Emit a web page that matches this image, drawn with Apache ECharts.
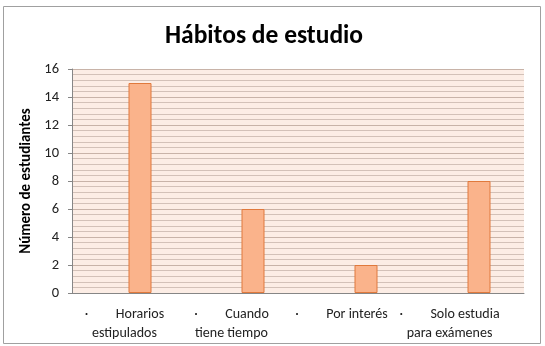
<!DOCTYPE html>
<html><head><meta charset="utf-8">
<script src="https://cdn.jsdelivr.net/npm/echarts@6/dist/echarts.min.js"></script>
<style>html,body{margin:0;padding:0;background:#fff}#c{width:545px;height:346px}</style>
</head><body><div id="c"></div>
<script>
var titleText = 'Hábitos de estudio';
var yAxisName = 'Número de estudiantes';
var categories = ['Horarios|estipulados', 'Cuando|tiene tiempo', 'Por interés|', 'Solo estudia|para exámenes'];
var values = [15, 6, 2, 8];
var yTicks = [0, 2, 4, 6, 8, 10, 12, 14, 16];

var font = 'Carlito, Calibri, Lato, sans-serif';
var labelShift = [8, 20, 26, 36];
var rich = {};
labelShift.forEach(function (s, i) {
  rich['d' + i] = { fontFamily: font, fontSize: 14, color: '#222', width: 31, align: 'left' };
  rich['w' + i] = { fontFamily: font, fontSize: 14, color: '#222', padding: [0, s, 0, 0], lineHeight: 19 };
  rich['l' + i] = { fontFamily: font, fontSize: 14, color: '#222', padding: [0, s, 0, 0], lineHeight: 19 };
});

var chart = echarts.init(document.getElementById('c'), null, { renderer: 'canvas' });
chart.setOption({
  animation: false,
  title: {
    text: titleText, left: 160, top: 19,
    textStyle: { fontFamily: font, fontSize: 25.5, fontWeight: 'bold', color: '#000' }
  },
  graphic: [{
    type: 'rect', shape: { x: 3.5, y: 6.5, width: 537, height: 337 },
    style: { fill: 'none', stroke: '#a0a0a0', lineWidth: 1 }, silent: true
  }],
  grid: { left: 72, right: 21, top: 69, bottom: 53, show: true, backgroundColor: '#fcede5', borderWidth: 0 },
  xAxis: {
    type: 'category', data: categories,
    axisLine: { show: true, lineStyle: { color: '#868686' } },
    axisTick: { show: false },
    splitLine: { show: false },
    axisLabel: {
      interval: 0, margin: 12,
      formatter: function (v, i) {
        var p = v.split('|');
        var s = '{d' + i + '|·}{w' + i + '|' + p[0] + '}';
        if (p[1]) s += '\n{l' + i + '|' + p[1] + '}';
        return s;
      },
      rich: rich
    }
  },
  yAxis: {
    type: 'value', min: yTicks[0], max: yTicks[yTicks.length - 1], interval: 2,
    name: yAxisName, nameLocation: 'middle', nameGap: 34, nameRotate: 90,
    nameTextStyle: { fontFamily: font, fontSize: 15, fontWeight: 'bold', color: '#000' },
    axisLine: { show: true, lineStyle: { color: '#868686' } },
    axisTick: { show: true, length: 4, lineStyle: { color: '#868686' } },
    axisLabel: { fontFamily: font, fontSize: 14.5, color: '#222', margin: 13 },
    splitLine: { show: true, lineStyle: { color: '#c8b3a8', width: 1 } },
    minorTick: { show: false, splitNumber: 5 },
    minorSplitLine: { show: true, lineStyle: { color: '#d3c1b8', width: 1 } }
  },
  series: [
    { type: 'bar', data: [null, null, null, null], barWidth: 23, barGap: '0%' },
    {
      type: 'bar', data: values, barWidth: 23, barGap: '0%',
      itemStyle: { color: '#fab38b', borderColor: '#e0793c', borderWidth: 1 }
    }
  ]
});
</script></body></html>
